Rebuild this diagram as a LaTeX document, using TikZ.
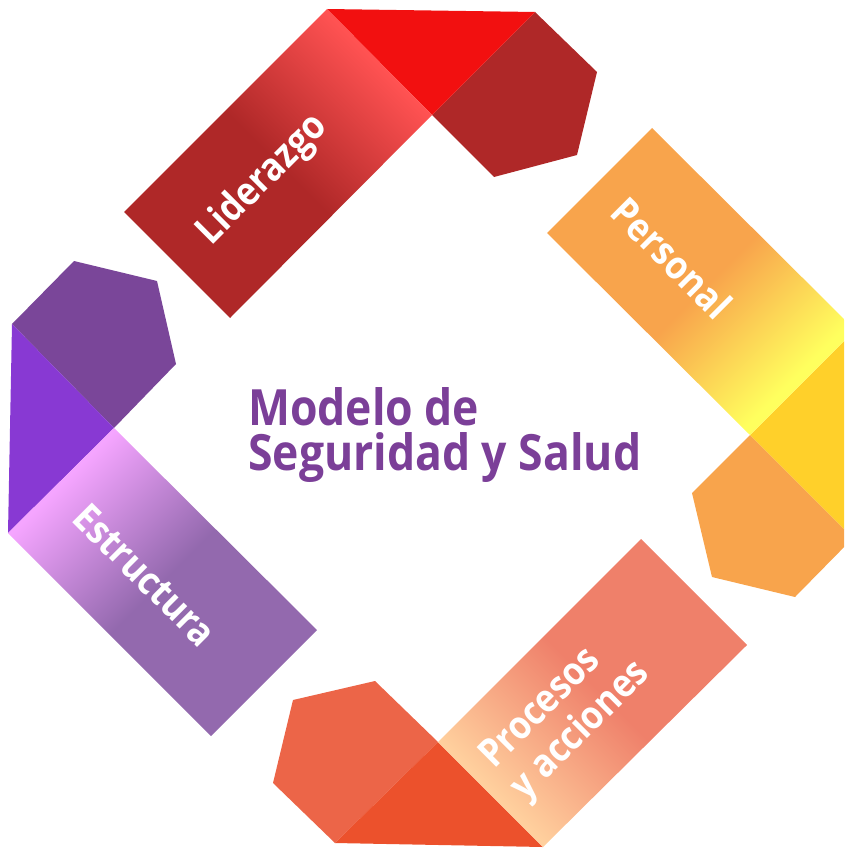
\documentclass[tikz,border=0pt]{standalone}
\usepackage{fontspec}
\setmainfont{Open Sans}
\newfontfamily\narrowfont{Open Sans}[FakeStretch=0.89]
\definecolor{lidDark}{HTML}{AF2828}
\definecolor{lidLight}{HTML}{FF5252}
\definecolor{lidTri}{HTML}{F21010}
\definecolor{perOrange}{HTML}{F8A44C}
\definecolor{perYellow}{HTML}{FFFF5E}
\definecolor{perTri}{HTML}{FFD02A}
\definecolor{proSalmon}{HTML}{EF806A}
\definecolor{proPeach}{HTML}{FFD09E}
\definecolor{proTri}{HTML}{EC512C}
\definecolor{proPent}{HTML}{EC6548}
\definecolor{estPurple}{HTML}{9369AE}
\definecolor{estPink}{HTML}{F5A5FF}
\definecolor{estTri}{HTML}{8839D3}
\definecolor{estPent}{HTML}{7A4699}
\definecolor{titleCol}{HTML}{7B3F98}
\pgfdeclarehorizontalshading{lidshade}{100bp}{color(0bp)=(lidDark); color(50bp)=(lidDark); color(73bp)=(lidLight); color(100bp)=(lidLight)}
\pgfdeclarehorizontalshading{pershade}{100bp}{color(0bp)=(perOrange); color(51bp)=(perOrange); color(72bp)=(perYellow); color(100bp)=(perYellow)}
\pgfdeclarehorizontalshading{proshade}{100bp}{color(0bp)=(proSalmon); color(49bp)=(proSalmon); color(73bp)=(proPeach); color(100bp)=(proPeach)}
\pgfdeclarehorizontalshading{estshade}{100bp}{color(0bp)=(estPurple); color(50bp)=(estPurple); color(73bp)=(estPink); color(100bp)=(estPink)}
\tikzset{
  lbl/.style={text=white, font=\narrowfont\fontsize{39}{43}\selectfont\bfseries, inner sep=0pt},
  ttl/.style={text=titleCol, font=\narrowfont\fontsize{50}{45}\selectfont\bfseries, inner sep=0pt, anchor=base west}
}
\begin{document}
\begin{tikzpicture}[x=1pt,y=-1pt]
\useasboundingbox (0,0) rectangle (844,848);
\begin{scope}
\clip (0,0) rectangle (844,848);
% Liderazgo
\fill[lidDark] (535,12) -- (597,72) -- (577,155) -- (494,177) -- (432,115) -- cycle;
\fill[lidTri] (327,9) -- (535,12) -- (432,115) -- cycle;
\shade[shading=lidshade, shading angle=45] (124,212) -- (327,9) -- (432,115) -- (230,318) -- cycle;
% Personal
\fill[perOrange] (853,538) -- (795,597) -- (712,577) -- (692,493) -- (750,435) -- cycle;
\fill[perTri] (855,330) -- (750,435) -- (853,538) -- cycle;
\shade[shading=pershade, shading angle=-45] (652,128) -- (855,330) -- (750,435) -- (547,233) -- cycle;
% Procesos
\fill[proPent] (335,843) -- (273,783) -- (293,700) -- (375,681) -- (438,742) -- cycle;
\fill[proTri] (438,742) -- (543,847) -- (335,843) -- cycle;
\shade[shading=proshade, shading angle=225] (641,539) -- (747,645) -- (543,847) -- (438,742) -- cycle;
% Estructura
\fill[estPent] (12,324) -- (74,261) -- (157,281) -- (176,364) -- (114,428) -- cycle;
\fill[estTri] (12,324) -- (114,428) -- (8,533) -- cycle;
\shade[shading=estshade, shading angle=135] (211,736) -- (317,630) -- (114,428) -- (8,533) -- cycle;
\end{scope}
% labels
\node[lbl, rotate=45] (lid) at (263,180) {Liderazgo};
\node[lbl, rotate=-45] (per) at (672,258) {Personal};
\node[lbl, rotate=-45] (est) at (145,575) {Estructura};
\node[lbl, rotate=45, align=left, font=\narrowfont\fontsize{39}{44}\selectfont\bfseries] (pro) at (566,716) {Procesos\\y acciones};
% title
\node[ttl] (t1) at (248,425) {Modelo de};
\node[ttl] (t2) at (248,470) {Seguridad y Salud};
\end{tikzpicture}
\end{document}
